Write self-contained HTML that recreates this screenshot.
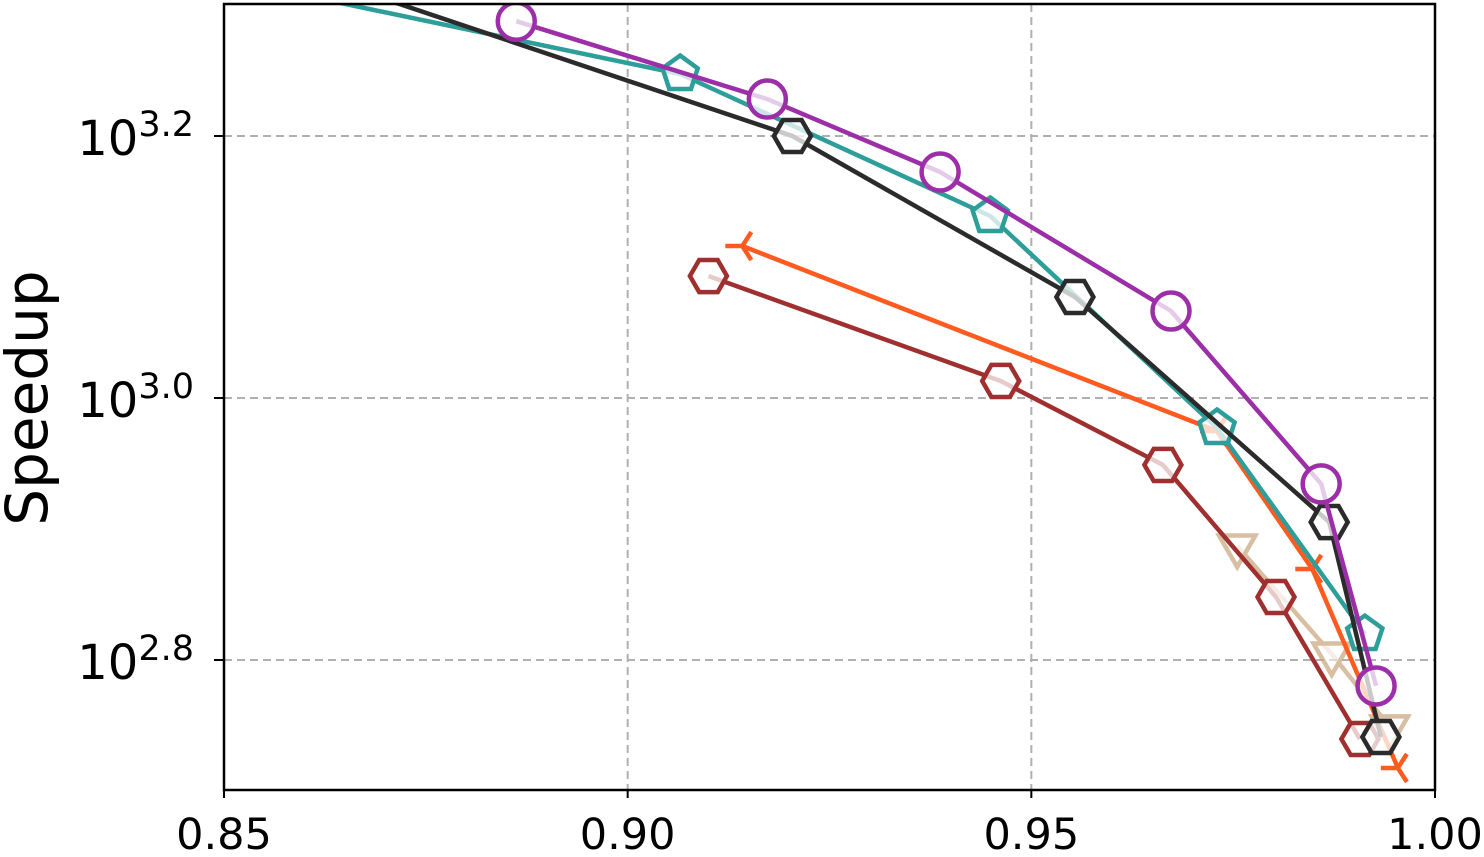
<!DOCTYPE html>
<html><head><meta charset="utf-8"><style>
html,body{margin:0;padding:0;background:#fff;}
svg{display:block;font-family:"DejaVu Sans","Liberation Sans",sans-serif;}
</style></head><body>
<svg id="chart" width="1484" height="857" viewBox="0 0 1484 857" xmlns="http://www.w3.org/2000/svg">
<defs><clipPath id="plotclip"><rect x="224" y="4" width="1211" height="786"/></clipPath></defs>
<g id="grid"></g>
<g id="series" clip-path="url(#plotclip)"></g>
<g id="axes"></g>
<text transform="translate(47,398) rotate(-90)" text-anchor="middle" font-size="58">Speedup</text>
</svg>
<script>
const xTicks=[0.85,0.90,0.95,1.00];
const xTickLabels=["0.85","0.90","0.95","1.00"];
const yTicks=[2.8,3.0,3.2];
const yTickLabels=["2.8","3.0","3.2"];
const tanX=[0.9755,0.9872,0.9944];
const tanY=[2.8870,2.8046,2.7489];
const purpleX=[0.8862,0.9173,0.9387,0.9673,0.9859,0.9927];
const purpleY=[3.2876,3.2282,3.1725,3.0664,2.9344,2.7802];
const tealX=[0.8408,0.9065,0.9449,0.9730,0.9913];
const tealY=[3.332,3.2473,3.1389,2.9771,2.8198];
const blackX=[0.8470,0.9204,0.9554,0.9869,0.9933];
const blackY=[3.352,3.2,3.0771,2.9053,2.7412];
const orangeX=[0.9142,0.9730,0.9848,0.9954];
const orangeY=[3.1160,2.9748,2.8695,2.7176];
const brownX=[0.9100,0.9462,0.9663,0.9803,0.9907];
const brownY=[3.0931,3.0130,2.9489,2.8481,2.7397];

const L=224,R=1435,T=4,B=790;
function sx(v){return L+(v-0.85)/0.15*(R-L);}
function sy(v){return 398-(v-3.0)/0.2*262;}
const NS="http://www.w3.org/2000/svg";
function mk(tag,attrs,parent){const e=document.createElementNS(NS,tag);for(const k in attrs)e.setAttribute(k,attrs[k]);parent.appendChild(e);return e;}
const grid=document.getElementById('grid'),axes=document.getElementById('axes'),ser=document.getElementById('series');
xTicks.forEach((t,i)=>{
  const x=sx(t);
  if(i>0&&i<xTicks.length-1){const g=mk('line',{x1:x,x2:x,y1:T,y2:B,stroke:'#b0b0b0','stroke-width':2,'stroke-dasharray':'8,5'},grid);
  
  }
  const tk=mk('line',{x1:x,x2:x,y1:B,y2:B+8,stroke:'#000','stroke-width':2},axes);
  
  
  const tx=mk('text',{x:x,y:849,'text-anchor':'middle','font-size':43},axes);
  
  
  tx.textContent=xTickLabels[i];
});
yTicks.forEach((t,i)=>{
  const y=sy(t);
  const g=mk('line',{x1:L,x2:R,y1:y,y2:y,stroke:'#b0b0b0','stroke-width':2,'stroke-dasharray':'8,5'},grid);
  
  
  const tk=mk('line',{x1:L-10,x2:L,y1:y,y2:y,stroke:'#000','stroke-width':2},axes);
  
  
  const tx=mk('text',{x:194,y:y+19,'text-anchor':'end','font-size':48},axes);
  
  
  tx.innerHTML='10<tspan dy="-19" font-size="35">'+yTickLabels[i]+'</tspan>';
});
const frame=mk('rect',{x:L,y:T,width:R-L,height:B-T,fill:'none',stroke:'#000','stroke-width':2.5},axes);



function poly(cx,cy,r,n,rot){let p=[];for(let k=0;k<n;k++){const a=rot+k*2*Math.PI/n;p.push((cx+r*Math.cos(a)).toFixed(1)+','+(cy+r*Math.sin(a)).toFixed(1));}return p.join(' ');}
function marker(g,type,x,y,c){
  let e;
  const st={fill:'#fff','fill-opacity':0.75,stroke:c,'stroke-width':4.5};
  if(type==='circle')e=mk('circle',Object.assign({cx:x,cy:y,r:18.5},st),g);
  else if(type==='pent')e=mk('polygon',Object.assign({points:poly(x,y,18.5,5,-Math.PI/2)},st),g);
  else if(type==='hex')e=mk('polygon',Object.assign({points:poly(x,y,18.5,6,0)},st),g);
  else if(type==='tri')e=mk('polygon',Object.assign({points:poly(x,y,21,3,Math.PI/2)},st),g);
  else {e=mk('path',{d:`M${x-17},${y}H${x} M${x},${y}L${x+9},${y-14} M${x},${y}L${x+9},${y+14}`,stroke:c,'stroke-width':4.5,fill:'none'},g);}
  
  
}
function series(name,xs,ys,c,type,op){
  const g=mk('g',{opacity:op},ser);
  
  
  const pts=xs.map((v,i)=>sx(v).toFixed(1)+','+sy(ys[i]).toFixed(1)).join(' ');
  const pl=mk('polyline',{points:pts,fill:'none',stroke:c,'stroke-width':4.5,'stroke-linejoin':'round'},g);
  
  
  xs.forEach((v,i)=>marker(g,type,sx(v),sy(ys[i]),c));
}
series('series-tan',tanX,tanY,'#c9a57a','tri',0.7);
series('series-brown',brownX,brownY,'#a03030','hex',1);
series('series-orange',orangeX,orangeY,'#ff5a1f','tri-left',1);
series('series-teal',tealX,tealY,'#2e9e9b','pent',1);
series('series-black',blackX,blackY,'#2b2b2b','hex',1);
series('series-purple',purpleX,purpleY,'#9c2fa8','circle',1);
</script>
</body></html>
